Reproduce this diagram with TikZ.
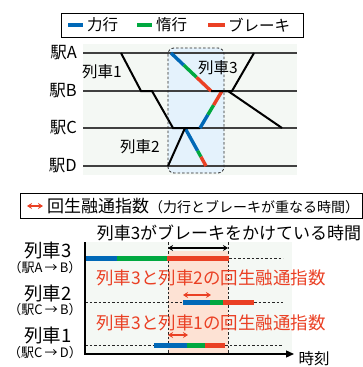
\documentclass[tikz,border=0pt]{standalone}
\usepackage{fontspec}
\setmainfont{Noto Sans CJK JP}
\usetikzlibrary{arrows.meta,calc}
\definecolor{cpow}{RGB}{0,104,183}
\definecolor{ccst}{RGB}{0,168,64}
\definecolor{cbrk}{RGB}{234,64,36}
\definecolor{chartbg}{RGB}{244,248,244}
\definecolor{boxbg}{RGB}{228,242,252}
\definecolor{pinkbg}{RGB}{253,226,212}
\begin{document}
\begin{tikzpicture}[x=1pt,y=-1pt,
  station/.style={draw=black!75,line width=1.3pt},
  trainln/.style={draw=black,line width=2pt,line join=miter},
  segln/.style={line width=3.4pt},
  barln/.style={line width=5pt},
  dashln/.style={draw=black!85,line width=0.8pt,dash pattern=on 2.5pt off 2pt},
  lbl/.style={inner sep=0pt,font=\fontsize{15.5}{15.5}\selectfont},
  stlbl/.style={inner sep=0pt,font=\fontsize{16.5}{16.5}\selectfont},
  biglbl/.style={inner sep=0pt,font=\fontsize{17}{17}\selectfont},
  ylbl/.style={inner sep=0pt,font=\fontsize{18.5}{18.5}\selectfont},
  smlbl/.style={inner sep=0pt,font=\fontsize{13}{13}\selectfont},
  redlbl/.style={inner sep=0pt,text=cbrk,font=\fontsize{17.5}{17.5}\selectfont},
  dblarrow/.style={{Stealth[length=5pt,width=6pt]}-{Stealth[length=5pt,width=6pt]},line width=1.8pt}
]
\useasboundingbox (0,0) rectangle (363,367);

% ---------- top legend ----------
\draw[line width=1pt] (61,13) rectangle (303,37);
\coordinate (lgb1) at (68,25); \coordinate (lgb2) at (83,25);
\coordinate (lgg1) at (137,25); \coordinate (lgg2) at (152,25);
\coordinate (lgr1) at (208,25); \coordinate (lgr2) at (225,25);
\draw[cpow,line width=3.5pt] (lgb1) -- (lgb2);
\draw[ccst,line width=3.5pt] (lgg1) -- (lgg2);
\draw[cbrk,line width=3.5pt] (lgr1) -- (lgr2);
\node[lbl,anchor=west] (lgtb) at (87,25) {力行};
\node[lbl,anchor=west] (lgtg) at (156,25) {惰行};
\node[lbl,anchor=west] (lgtr) at (228,25) {ブレーキ};

% ---------- top chart ----------
\fill[chartbg] (83,44) rectangle (297,175);
\fill[boxbg,rounded corners=6pt] (168,48) rectangle (224,173);

\coordinate (sA0) at (83,53);  \coordinate (sA1) at (297,53);
\coordinate (sB0) at (83,91);  \coordinate (sB1) at (297,91);
\coordinate (sC0) at (83,128); \coordinate (sC1) at (297,128);
\coordinate (sD0) at (83,166); \coordinate (sD1) at (297,166);
\draw[station] (sA0) -- (sA1);
\draw[station] (sB0) -- (sB1);
\draw[station] (sC0) -- (sC1);
\draw[station] (sD0) -- (sD1);
\node[stlbl,anchor=east] (stA) at (77,53) {駅A};
\node[stlbl,anchor=east] (stB) at (77,91) {駅B};
\node[stlbl,anchor=east] (stC) at (77,128) {駅C};
\node[stlbl,anchor=east] (stD) at (77,166) {駅D};

% train 1
\coordinate (a1) at (121,53);
\coordinate (a2) at (141,91);
\coordinate (a3) at (152,91);
\coordinate (a4) at (173,128);
\coordinate (a5) at (185,128);
\coordinate (a6) at (206,166);
\draw[trainln] (a1) -- (a2) -- (a3) -- (a4) -- (a5);
\draw[segln,cpow] (a5) -- ($(a5)!0.6!(a6)$);
\draw[segln,ccst] ($(a5)!0.6!(a6)$) -- ($(a5)!0.76!(a6)$);
\draw[segln,cbrk] ($(a5)!0.76!(a6)$) -- (a6);

% train 2
\coordinate (b1) at (168,166);
\coordinate (b2) at (185,128);
\coordinate (b3) at (200,128);
\coordinate (b4) at (222,91);
\coordinate (b5) at (228,91);
\coordinate (b6) at (282,128);
\draw[trainln] (b1) -- (b2) -- (b3);
\draw[segln,cpow] (b3) -- ($(b3)!0.36!(b4)$);
\draw[segln,ccst] ($(b3)!0.36!(b4)$) -- ($(b3)!0.62!(b4)$);
\draw[segln,cbrk] ($(b3)!0.62!(b4)$) -- (b4);
\draw[trainln] (b4) -- (b5) -- (b6);

% train 3
\coordinate (c1) at (171,53);
\coordinate (c2) at (211,91);
\coordinate (c3) at (232,91);
\coordinate (c4) at (254,53);
\draw[segln,cpow] (c1) -- ($(c1)!0.32!(c2)$);
\draw[segln,ccst] ($(c1)!0.32!(c2)$) -- ($(c1)!0.64!(c2)$);
\draw[segln,cbrk] ($(c1)!0.64!(c2)$) -- (c2);
\draw[trainln] (c2) -- (c3) -- (c4);

\draw[dashln,rounded corners=6pt] (168,48) rectangle (224,173);

\node[lbl] (tr1) at (102,72) {列車1};
\node[lbl] (tr3) at (218,68) {列車3};
\node[lbl] (tr2) at (140,147) {列車2};

% ---------- bottom legend ----------
\draw[line width=1pt] (20,193) rectangle (362,218);
\coordinate (la1) at (27,206); \coordinate (la2) at (43,206);
\draw[dblarrow,cbrk,line width=1.6pt] (la1) -- (la2);
\node[inner sep=0pt,anchor=west] (lgt2) at (47,206)
  {\fontsize{17}{17}\selectfont 回生融通指数\fontsize{14}{14}\selectfont（力行とブレーキが重なる時間）};

\node[biglbl] (brtime) at (229,233) {列車3がブレーキをかけている時間};

% ---------- bottom chart ----------
\fill[chartbg] (85,242) rectangle (292,353);
\fill[pinkbg] (168,251) rectangle (228,353);
\coordinate (v1t) at (168,242); \coordinate (v1b) at (168,353);
\coordinate (v2t) at (228,242); \coordinate (v2b) at (228,353);
\draw[dashln] (v1t) -- (v1b);
\draw[dashln] (v2t) -- (v2b);

% train 3 bar
\draw[barln,cpow] (85,258) -- (117,258);
\draw[barln,ccst] (117,258) -- (167,258);
\draw[barln,cbrk] (167,258) -- (229,258);
\draw[dashln] (229,258) -- (283,258);
\coordinate (k1) at (168,248); \coordinate (k2) at (228,248);
\draw[dblarrow,black] (k1) -- (k2);

% train 2 bar
\draw[dashln] (85,302) -- (183,302);
\draw[barln,cpow] (183,302) -- (210,302);
\draw[barln,ccst] (210,302) -- (223,302);
\draw[barln,cbrk] (223,302) -- (254,302);
\draw[dashln] (254,302) -- (283,302);
\coordinate (r1) at (183,295); \coordinate (r2) at (211,295);
\draw[dblarrow,cbrk] (r1) -- (r2);

% train 1 bar
\draw[dashln] (85,345) -- (154,345);
\draw[barln,cpow] (154,345) -- (187,345);
\draw[barln,ccst] (187,345) -- (205,345);
\draw[barln,cbrk] (205,345) -- (225,345);
\draw[dashln] (225,345) -- (283,345);
\coordinate (q1) at (168,335); \coordinate (q2) at (188,335);
\draw[dblarrow,cbrk] (q1) -- (q2);

% axes
\coordinate (ax0) at (85,242); \coordinate (ax1) at (85,354); \coordinate (ax2) at (294,354);
\draw[line width=1.3pt,-{Triangle[length=8pt,width=7pt]}] (ax0) -- (ax1) -- (ax2);
\node[inner sep=0pt,font=\fontsize{15.5}{15.5}\selectfont] (tlabel) at (314,359) {時刻};

\node[redlbl] (ri32) at (211,278) {列車3と列車2の回生融通指数};
\node[redlbl] (ri31) at (211,323) {列車3と列車1の回生融通指数};

\node[ylbl] (y3) at (48,251) {列車3};
\node[smlbl] (y3s) at (45,268) {（駅A\,→\,B）};
\node[ylbl] (y2) at (48,294) {列車2};
\node[smlbl] (y2s) at (45,310) {（駅C\,→\,B）};
\node[ylbl] (y1) at (48,336) {列車1};
\node[smlbl] (y1s) at (45,353) {（駅C\,→\,D）};
\end{tikzpicture}
\end{document}
